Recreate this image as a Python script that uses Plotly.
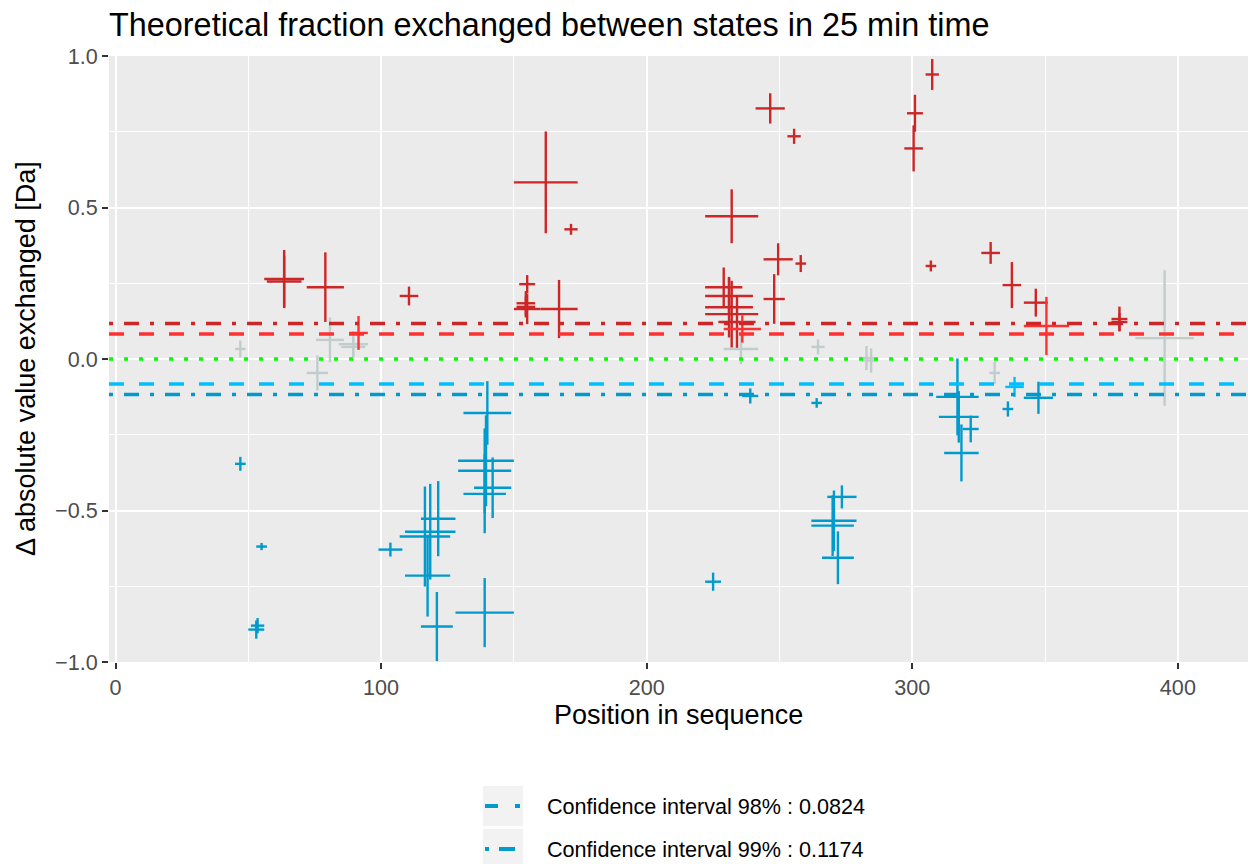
import plotly.graph_objects as go

# Peptide coverage: start/end residue, difference in exchanged mass and its uncertainty
pep_start = [56, 57, 72, 107, 152, 151, 150, 151, 150, 169, 160,
             222, 244, 244, 222, 222, 222, 222, 227, 229,
             241, 253, 256, 305, 298, 297, 305, 326, 334, 342, 342, 375, 375,
             88,
             45, 75.5, 72, 84, 85, 229, 262, 280, 282, 329, 384,
             45, 50, 51, 53, 99, 115, 109, 107, 109, 115,
             131, 129, 129, 135, 131, 128, 222, 236, 262,
             268, 262, 262, 266, 309, 310, 319, 312, 334, 342, 335]
pep_end = [71, 70, 86, 114, 158, 158, 160, 158, 174, 174, 174,
           242, 255, 252, 236, 240, 240, 242, 241, 243,
           252, 258, 260, 310, 304, 304, 309, 333, 341, 351, 359, 381, 381,
           95,
           49, 86, 80, 95, 94, 242, 267, 285.5, 287, 333, 406,
           49, 56, 56, 57, 108, 128, 128, 126, 126, 127,
           149, 150, 149, 149, 147, 150, 228, 242, 266,
           279, 279, 278, 278, 325, 325, 325, 325, 338, 353, 342]
diff_value = [0.264, 0.256, 0.237, 0.208, 0.247, 0.184, 0.165, 0.172, 0.583, 0.428, 0.165,
              0.471, 0.329, 0.198, 0.237, 0.208, 0.171, 0.148, 0.122, 0.099,
              0.827, 0.735, 0.315, 0.939, 0.811, 0.695, 0.307, 0.350, 0.244, 0.186, 0.109, 0.132, 0.122,
              0.086,
              0.033, 0.063, -0.046, 0.049, 0.040, 0.033, 0.040, 0.003, -0.005, -0.046, 0.069,
              -0.346, -0.893, -0.880, -0.619, -0.629, -0.527, -0.570, -0.586, -0.715, -0.883,
              -0.178, -0.336, -0.369, -0.425, -0.445, -0.837, -0.735, -0.122, -0.145,
              -0.455, -0.534, -0.550, -0.656, -0.125, -0.191, -0.231, -0.310, -0.165, -0.128, -0.092]
diff_err = [0.096, 0.085, 0.115, 0.031, 0.030, 0.040, 0.050, 0.035, 0.168, 0.018, 0.096,
            0.089, 0.053, 0.082, 0.065, 0.060, 0.100, 0.110, 0.085, 0.045,
            0.050, 0.025, 0.028, 0.051, 0.061, 0.076, 0.018, 0.036, 0.076, 0.046, 0.096, 0.041, 0.030,
            0.056,
            0.028, 0.074, 0.058, 0.043, 0.035, 0.050, 0.025, 0.040, 0.040, 0.036, 0.224,
            0.023, 0.030, 0.025, 0.012, 0.023, 0.124, 0.158, 0.165, 0.135, 0.114,
            0.105, 0.150, 0.140, 0.100, 0.130, 0.114, 0.030, 0.025, 0.016,
            0.038, 0.100, 0.100, 0.087, 0.127, 0.085, 0.044, 0.094, 0.025, 0.053, 0.033]

# Confidence thresholds
ci_98 = 0.0824
ci_99 = 0.1174
ci_labels = ["Confidence interval 98% : 0.0824", "Confidence interval 99% : 0.1174"]

x_ticks = [0, 100, 200, 300, 400]
y_ticks = [-1.0, -0.5, 0.0, 0.5, 1.0]

COL_UP99 = "#CD2626"
COL_UP98 = "#FF3030"
COL_DN98 = "#00BFFF"
COL_DN99 = "#009ACD"
COL_NS = "#C1CDCD"
FONT = "Liberation Sans, Arial, sans-serif"


def category(v):
    if v > ci_99:
        return "up99"
    if v > ci_98:
        return "up98"
    if v < -ci_99:
        return "dn99"
    if v < -ci_98:
        return "dn98"
    return "ns"


groups = {k: ([], []) for k in ["ns", "up99", "up98", "dn99", "dn98"]}
for s, e, v, err in zip(pep_start, pep_end, diff_value, diff_err):
    xs, ys = groups[category(v)]
    mid = (s + e) / 2
    xs += [s, e, None, mid, mid, None]
    ys += [v, v, None, v - err, v + err, None]

colors = {"ns": COL_NS, "up99": COL_UP99, "up98": COL_UP98, "dn99": COL_DN99, "dn98": COL_DN98}

W, H = 1248, 864
ML, MR, MT, MB = 109, 0, 56, 202
PW, PH = W - ML - MR, H - MT - MB

fig = go.Figure()
fig.update_layout(
    width=W, height=H,
    margin=dict(l=ML, r=MR, t=MT, b=MB),
    paper_bgcolor="white", plot_bgcolor="#EBEBEB",
    title=dict(text="Theoretical fraction exchanged between states in 25 min time",
               x=0, xref="paper", xanchor="left", y=1 - 25 / H, yref="container",
               yanchor="middle", font=dict(family=FONT, size=32.4, color="black")),
    showlegend=False,
)

for key, (xs, ys) in groups.items():
    fig.add_trace(go.Scatter(x=xs, y=ys, mode="lines",
                             line=dict(color=colors[key], width=2.4),
                             hoverinfo="skip", showlegend=False))

# Threshold lines
fig.add_hline(y=ci_99, line=dict(color=COL_UP99, width=3.5, dash="4px,11px,15px,11px"))
fig.add_hline(y=ci_98, line=dict(color=COL_UP98, width=3.5, dash="15px,15px"))
fig.add_hline(y=0, line=dict(color="#00FF00", width=3.5, dash="4px,11px"))
fig.add_hline(y=-ci_98, line=dict(color=COL_DN98, width=3.5, dash="15px,15px"))
fig.add_hline(y=-ci_99, line=dict(color=COL_DN99, width=3.5, dash="4px,11px,15px,11px"))


def px_x(x):
    return (x - ML) / PW


def px_y(y):
    return (H - MB - y) / PH


# Legend keys drawn below the panel
for i, (top, lbl) in enumerate(zip([786, 829], ci_labels)):
    fig.add_shape(type="rect", xref="paper", yref="paper",
                  x0=px_x(483), x1=px_x(523), y0=px_y(top + 40), y1=px_y(top),
                  fillcolor="#F2F2F2", line=dict(width=0), layer="above")
    yc = top + 20
    segs = [(485, 498), (515, 520)] if i == 0 else [(485, 489), (499, 515)]
    for a, b in segs:
        fig.add_shape(type="line", xref="paper", yref="paper",
                      x0=px_x(a), x1=px_x(b), y0=px_y(yc), y1=px_y(yc),
                      line=dict(color=COL_DN99, width=4), layer="above")
    fig.add_annotation(text=lbl, xref="paper", yref="paper", x=px_x(545), y=px_y(yc),
                       xanchor="left", yanchor="middle", showarrow=False,
                       font=dict(family=FONT, size=21.6, color="black"))

fig.add_annotation(text="Position in sequence", xref="paper", yref="paper",
                   x=0.5, y=px_y(715), xanchor="center", yanchor="middle",
                   showarrow=False, font=dict(family=FONT, size=27, color="black"))
fig.add_annotation(text="Δ absolute value exchanged [Da]", xref="paper", yref="paper",
                   x=px_x(26), y=0.5, xanchor="center", yanchor="middle", textangle=-90,
                   showarrow=False, font=dict(family=FONT, size=27, color="black"))

fig.update_xaxes(range=[-2.45, 426.4], tickvals=x_ticks, showgrid=True, gridcolor="white",
                 gridwidth=2, zeroline=False, ticks="outside", ticklen=6, tickwidth=2,
                 tickcolor="#333333", tickfont=dict(family=FONT, size=21.6, color="#4D4D4D"),
                 minor=dict(dtick=50, showgrid=True, gridcolor="white", gridwidth=1),
                 showline=False)
fig.update_yaxes(range=[-1, 1], tickvals=y_ticks, tickformat=".1f", showgrid=True,
                 gridcolor="white", gridwidth=2, zeroline=False, ticks="outside", ticklen=6,
                 tickwidth=2, tickcolor="#333333",
                 tickfont=dict(family=FONT, size=21.6, color="#4D4D4D"),
                 minor=dict(dtick=0.25, showgrid=True, gridcolor="white", gridwidth=1),
                 showline=False)

fig.write_html("out.html")
